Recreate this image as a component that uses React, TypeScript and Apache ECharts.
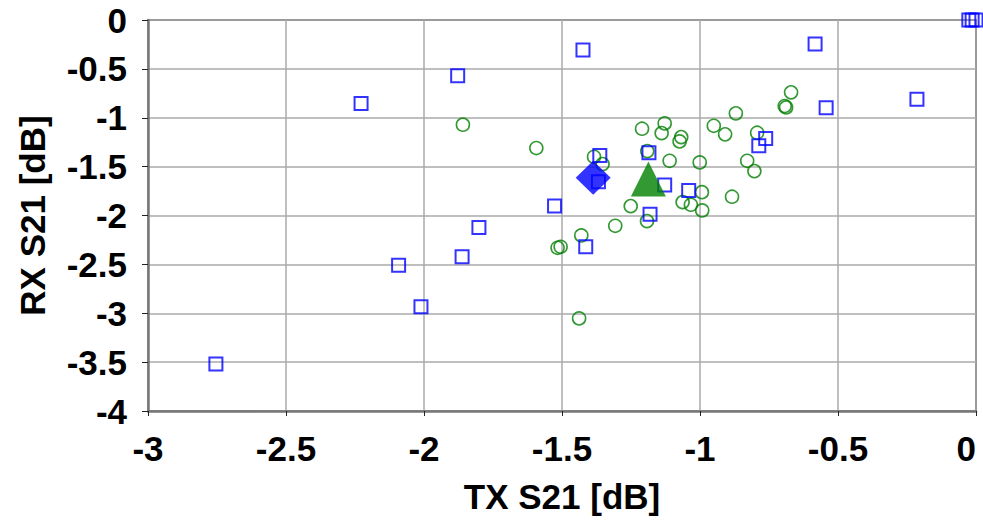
import React, { useEffect, useRef } from "react";
import * as echarts from "echarts";

const xTicks = [-3, -2.5, -2, -1.5, -1, -0.5, 0];
const yTicks = [0, -0.5, -1, -1.5, -2, -2.5, -3, -3.5, -4];

const squaresX = [-1.878, -2.228, -1.424, -0.583, -0.214, -0.543, -0.026, -0.014, 0, -0.762, -0.787, -1.363, -1.185, -1.368, -1.128, -1.041, -1.527, -1.181, -1.801, -1.862, -2.092, -2.011, -2.754, -1.414];
const squaresY = [-0.570, -0.853, -0.307, -0.246, -0.812, -0.898, 0, 0, 0, -1.211, -1.287, -1.385, -1.358, -1.655, -1.689, -1.743, -1.904, -1.986, -2.122, -2.422, -2.508, -2.934, -3.518, -2.320];

const circlesX = [-1.859, -1.593, -0.670, -0.693, -0.688, -0.870, -0.950, -0.909, -0.793, -1.128, -1.210, -1.139, -1.068, -1.074, -1.384, -1.353, -1.191, -1.110, -1.001, -0.829, -0.803, -0.993, -0.884, -1.251, -1.063, -1.033, -0.992, -1.307, -1.192, -1.430, -1.516, -1.505, -1.438];
const circlesY = [-1.071, -1.310, -0.740, -0.880, -0.894, -0.955, -1.082, -1.170, -1.153, -1.058, -1.112, -1.157, -1.198, -1.242, -1.399, -1.474, -1.341, -1.440, -1.457, -1.440, -1.546, -1.761, -1.808, -1.904, -1.863, -1.890, -1.948, -2.105, -2.057, -2.204, -2.330, -2.320, -3.053];

const squaresMean = [-1.387, -1.614];
const circlesMean = [-1.187, -1.627];

const FONT = "'Liberation Sans', Arial, sans-serif";

export default function App() {
  const ref = useRef<HTMLDivElement>(null);
  useEffect(() => {
    if (!ref.current) return;
    const chart = echarts.init(ref.current, null, { renderer: "svg" });
    const sq = squaresX.map((x, i) => [x, squaresY[i]]);
    const ci = circlesX.map((x, i) => [x, circlesY[i]]);
    chart.setOption({
      animation: false,
      backgroundColor: "#ffffff",
      grid: {
        left: 148,
        right: 7,
        top: 20,
        bottom: 109,
        show: true,
        borderColor: "#444",
        borderWidth: 1.5,
        containLabel: false,
        outerBoundsMode: "none",
      },
      xAxis: {
        type: "value",
        min: -3,
        max: 0,
        interval: 0.5,
        name: "TX S21 [dB]",
        nameLocation: "middle",
        nameGap: 68,
        nameTextStyle: { fontFamily: FONT, fontWeight: "bold", fontSize: 35, color: "#000" },
        axisLine: { show: true, onZero: false, lineStyle: { color: "#777", width: 2.5 } },
        axisTick: { show: true, length: 5, lineStyle: { color: "#222", width: 1 } },
        axisLabel: {
          margin: 20,
          fontFamily: FONT,
          fontWeight: "bold",
          fontSize: 35,
          color: "#000",
          alignMaxLabel: "right",
          formatter: (v: number) => (xTicks.includes(v) ? String(v) : ""),
        },
        splitLine: { show: true, lineStyle: { color: "#aaa", width: 1.5 } },
      },
      yAxis: {
        type: "value",
        min: -4,
        max: 0,
        interval: 0.5,
        name: "RX S21 [dB]",
        nameLocation: "middle",
        nameGap: 98,
        nameTextStyle: { fontFamily: FONT, fontWeight: "bold", fontSize: 35, color: "#000" },
        axisLine: { show: true, onZero: false, lineStyle: { color: "#777", width: 2.5 } },
        axisTick: { show: true, length: 6, lineStyle: { color: "#222", width: 1 } },
        axisLabel: {
          margin: 21,
          fontFamily: FONT,
          fontWeight: "bold",
          fontSize: 35,
          color: "#000",
          formatter: (v: number) => (yTicks.includes(v) ? String(v) : ""),
        },
        splitLine: { show: true, lineStyle: { color: "#aaa", width: 1.5 } },
      },
      series: [
        {
          type: "scatter",
          data: ci,
          symbol: "circle",
          symbolSize: 13,
          clip: false,
          itemStyle: { color: "rgba(0,0,0,0)", borderColor: "#008000", borderWidth: 1.6 },
        },
        {
          type: "scatter",
          data: sq,
          symbol: "rect",
          symbolSize: 13,
          clip: false,
          itemStyle: { color: "rgba(0,0,0,0)", borderColor: "#0000ff", borderWidth: 2 },
        },
        {
          type: "scatter",
          data: [squaresMean],
          symbol: "diamond",
          symbolSize: [35, 34],
          clip: false,
          itemStyle: { color: "#0000ff" },
        },
        {
          type: "scatter",
          data: [circlesMean],
          symbol: "triangle",
          symbolSize: [35, 35],
          clip: false,
          itemStyle: { color: "#008000" },
        },
      ],
    });
    return () => chart.dispose();
  }, []);
  return (
    <div
      ref={ref}
      style={{ position: "absolute", left: 0, top: 0, width: 983, height: 520 }}
    />
  );
}
